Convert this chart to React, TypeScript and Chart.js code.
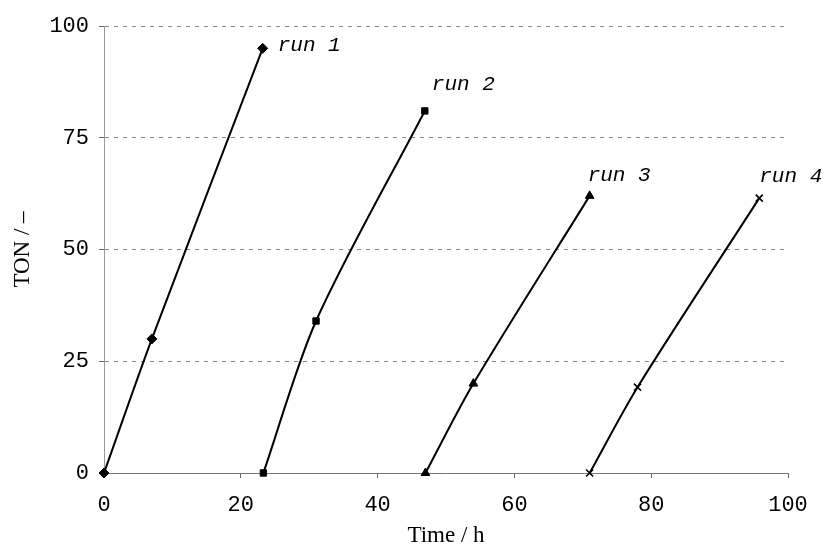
import React, { useEffect, useRef } from "react";
import { Chart, registerables } from "chart.js";

Chart.register(...registerables);

const runLabels = ["run 1", "run 2", "run 3", "run 4"];
const run1X = [0, 7, 23.2];
const run1Y = [0, 30, 95];
const run2X = [23.3, 31, 46.9];
const run2Y = [0, 34, 81];
const run3X = [47, 54, 71];
const run3Y = [0, 20, 62];
const run4X = [71, 78, 95.8];
const run4Y = [0, 19.2, 61.5];
const xTitle = "Time / h";
const yTitle = "TON / –";

const pointStyles = ["rectRot", "rect", "triangle", "crossRot"];
const pointRadii = [5, 4.5, 5, 5];
const labelOffsets = [
  [15, -3],
  [7, -26],
  [-2, -20],
  [0, -22],
];

const toPts = (xs: number[], ys: number[]) => xs.map((x, i) => ({ x, y: ys[i] }));

const runLabelPlugin = {
  id: "runLabels",
  afterDatasetsDraw(chart: any) {
    const ctx = chart.ctx;
    ctx.save();
    ctx.font = 'italic 21px "Liberation Mono"';
    ctx.fillStyle = "#000";
    ctx.textAlign = "left";
    ctx.textBaseline = "middle";
    chart.data.datasets.forEach((ds: any, i: number) => {
      const meta = chart.getDatasetMeta(i);
      const pt = meta.data[meta.data.length - 1];
      if (!pt) return;
      const [dx, dy] = labelOffsets[i];
      ctx.fillText(runLabels[i], pt.x + dx, pt.y + dy);
    });
    ctx.restore();
  },
};

export default function App() {
  const ref = useRef<HTMLCanvasElement | null>(null);
  useEffect(() => {
    if (!ref.current) return;
    const series = [toPts(run1X, run1Y), toPts(run2X, run2Y), toPts(run3X, run3Y), toPts(run4X, run4Y)];
    const chart = new Chart(ref.current, {
      type: "line",
      data: {
        datasets: series.map((d, i) => ({
          label: runLabels[i],
          data: d,
          borderColor: "#000",
          backgroundColor: "#000",
          borderWidth: 2,
          tension: 0.3,
          pointStyle: pointStyles[i] as any,
          pointRadius: pointRadii[i],
          pointBorderWidth: i === 3 ? 1.6 : 1,
          pointBackgroundColor: "#000",
          pointBorderColor: "#000",
          clip: false as any,
          fill: false,
        })),
      },
      options: {
        animation: false,
        responsive: true,
        maintainAspectRatio: false,
        layout: { padding: { top: 26, right: 40, left: 0, bottom: 0 } },
        plugins: { legend: { display: false }, tooltip: { enabled: false } },
        scales: {
          x: {
            type: "linear",
            min: 0,
            max: 100,
            ticks: {
              stepSize: 20,
              color: "#000",
              padding: 14,
              font: { family: '"Liberation Mono"', size: 22 },
            },
            grid: {
              drawOnChartArea: false,
              drawTicks: true,
              tickLength: 5,
              tickColor: "#666",
            },
            border: { display: true, color: "#777", width: 1 },
            title: {
              display: true,
              text: xTitle,
              color: "#000",
              font: { family: '"Liberation Serif"', size: 23 },
              padding: { top: 0, bottom: 0 },
            },
            afterFit: (s: any) => {
              s.height = 77;
            },
          },
          y: {
            type: "linear",
            min: 0,
            max: 100,
            ticks: {
              stepSize: 25,
              color: "#000",
              padding: 10,
              font: { family: '"Liberation Mono"', size: 22 },
            },
            grid: {
              color: (c: any) => (c.tick && c.tick.value === 0 ? "rgba(0,0,0,0)" : "#888"),
              tickColor: "#666",
              tickLength: 5,
              tickBorderDash: [],
              lineWidth: 1,
            } as any,
            border: { display: true, color: "#999", width: 1, dash: [] } as any,
            title: {
              display: true,
              text: yTitle,
              color: "#000",
              font: { family: '"Liberation Serif"', size: 23 },
              padding: { top: 9, bottom: 0 },
            },
            afterFit: (s: any) => {
              s.width = 104;
            },
          },
        },
      } as any,
      plugins: [runLabelPlugin],
    });
    (chart.options.scales as any).y.grid.borderDash = [4, 5];
    (chart.options.scales as any).y.border.dash = [4, 5];
    chart.update();
    return () => chart.destroy();
  }, []);
  return (
    <div style={{ position: "absolute", left: 0, top: 0, width: 828, height: 550, background: "#fff" }}>
      <canvas ref={ref} />
    </div>
  );
}
